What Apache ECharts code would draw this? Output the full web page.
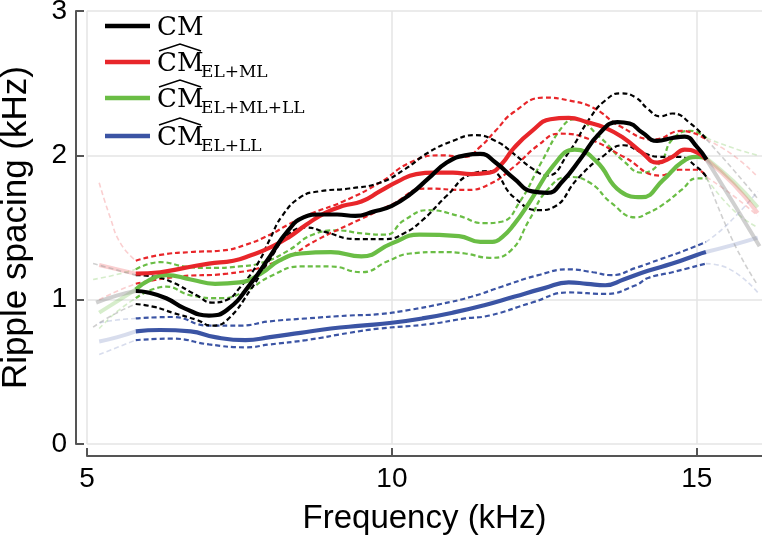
<!DOCTYPE html>
<html><head><meta charset="utf-8">
<script src="https://cdn.jsdelivr.net/npm/echarts@6/dist/echarts.min.js"></script>
<style>html,body{margin:0;padding:0;background:#fff}#c{width:762px;height:538px}</style>
</head><body><div id="c"></div>
<script>
// ---- data (x: frequency kHz, y: ripple spacing kHz) ----
const xTicks = [5, 10, 15];
const yTicks = [0, 1, 2, 3];

const cmMain = [[5.8,1.06],[6.0,1.05],[6.3,1.01],[6.6,0.94],[7.0,0.89],[7.3,0.93],[7.7,1.12],[8.0,1.30],[8.3,1.48],[8.55,1.57],[8.8,1.59],[9.1,1.59],[9.4,1.58],[9.7,1.61],[10.0,1.65],[10.3,1.73],[10.6,1.84],[10.9,1.95],[11.2,2.0],[11.45,2.01],[11.7,1.95],[12.0,1.84],[12.3,1.75],[12.55,1.74],[12.8,1.82],[13.1,1.98],[13.4,2.15],[13.7,2.23],[13.9,2.22],[14.1,2.16],[14.35,2.10],[14.6,2.12],[14.8,2.13],[15.0,2.06],[15.16,1.97]];
const cmUp = [[5.8,1.17],[6.1,1.16],[6.4,1.12],[6.8,1.03],[7.05,0.98],[7.3,1.00],[7.5,1.08],[7.8,1.25],[8.0,1.42],[8.2,1.58],[8.5,1.71],[8.8,1.75],[9.3,1.77],[9.8,1.81],[10.2,1.90],[10.6,2.02],[11.0,2.10],[11.35,2.14],[11.7,2.10],[12.0,2.01],[12.3,1.91],[12.55,1.86],[12.9,2.02],[13.25,2.26],[13.5,2.38],[13.75,2.43],[14.0,2.40],[14.2,2.32],[14.4,2.27],[14.6,2.29],[14.9,2.22],[15.16,2.11]];
const cmLo = [[5.8,0.97],[6.1,0.95],[6.4,0.91],[6.8,0.86],[7.05,0.82],[7.3,0.86],[7.7,1.08],[8.0,1.28],[8.3,1.45],[8.6,1.50],[8.9,1.47],[9.4,1.42],[9.9,1.42],[10.2,1.46],[10.5,1.55],[10.9,1.72],[11.3,1.87],[11.6,1.89],[12.0,1.71],[12.4,1.62],[12.65,1.64],[13.05,1.84],[13.45,1.99],[13.8,2.07],[14.1,2.02],[14.4,1.99],[14.7,1.99],[15.0,1.92],[15.16,1.85]];

const elmlMain = [[5.8,1.18],[6.2,1.19],[6.6,1.22],[7.0,1.25],[7.4,1.27],[7.7,1.31],[8.0,1.36],[8.3,1.43],[8.6,1.52],[8.9,1.60],[9.2,1.65],[9.5,1.68],[9.8,1.75],[10.1,1.82],[10.4,1.87],[10.7,1.88],[11.0,1.88],[11.3,1.87],[11.6,1.88],[11.8,1.94],[12.0,2.05],[12.3,2.17],[12.6,2.25],[12.9,2.26],[13.2,2.23],[13.5,2.19],[13.8,2.12],[14.1,2.02],[14.35,1.95],[14.6,1.99],[14.8,2.04],[15.0,2.02],[15.16,1.97]];
const elmlUp = [[5.8,1.27],[6.2,1.31],[6.7,1.33],[7.2,1.34],[7.6,1.38],[8.0,1.45],[8.3,1.52],[8.7,1.60],[9.2,1.68],[9.8,1.81],[10.3,1.95],[10.8,2.00],[11.2,1.99],[11.45,2.06],[11.7,2.17],[12.0,2.30],[12.5,2.40],[12.9,2.38],[13.3,2.33],[13.75,2.20],[14.3,2.11],[14.75,2.17],[15.16,2.11]];
const elmlLo = [[5.8,1.11],[6.5,1.16],[7.3,1.18],[8.15,1.27],[8.8,1.42],[9.5,1.56],[10.0,1.66],[10.55,1.77],[11.2,1.76],[11.6,1.80],[12.0,1.92],[12.4,2.07],[12.75,2.15],[13.25,2.11],[13.8,1.99],[14.4,1.86],[14.7,1.90],[15.0,1.90],[15.16,1.85]];

const elmlllMain = [[5.8,1.07],[6.0,1.13],[6.3,1.17],[6.7,1.14],[7.1,1.11],[7.5,1.12],[7.85,1.18],[8.15,1.27],[8.5,1.32],[9.0,1.33],[9.5,1.30],[10.0,1.39],[10.45,1.45],[11.1,1.44],[11.45,1.40],[11.65,1.40],[11.8,1.43],[12.0,1.52],[12.25,1.67],[12.65,1.93],[13.0,2.04],[13.35,1.96],[13.75,1.75],[14.1,1.71],[14.45,1.83],[14.75,1.95],[15.0,1.99],[15.16,1.98]];
const elmlllUp = [[5.8,1.21],[6.2,1.26],[6.6,1.23],[7.0,1.22],[7.5,1.23],[7.9,1.26],[8.3,1.34],[8.7,1.45],[9.1,1.48],[9.5,1.46],[9.9,1.45],[10.2,1.55],[10.6,1.62],[11.1,1.58],[11.5,1.53],[11.8,1.54],[12.1,1.68],[12.45,1.95],[12.8,2.20],[13.0,2.25],[13.4,2.13],[13.8,1.96],[14.1,1.88],[14.4,1.95],[14.6,2.11],[14.9,2.17],[15.16,2.12]];
const elmlllLo = [[5.8,1.01],[6.3,1.09],[6.7,1.03],[7.2,1.01],[7.6,1.06],[8.0,1.16],[8.5,1.23],[9.0,1.23],[9.5,1.19],[9.95,1.27],[10.3,1.32],[10.8,1.33],[11.2,1.32],[11.6,1.29],[11.95,1.34],[12.25,1.55],[12.55,1.76],[12.9,1.85],[13.25,1.81],[13.6,1.67],[14.0,1.57],[14.2,1.60],[14.45,1.66],[14.75,1.76],[15.0,1.84],[15.16,1.84]];

const elllMain = [[5.8,0.78],[6.2,0.79],[6.7,0.78],[7.1,0.74],[7.6,0.72],[8.0,0.74],[8.5,0.77],[9.0,0.80],[9.5,0.82],[10.0,0.84],[10.5,0.87],[11.0,0.91],[11.5,0.96],[12.0,1.02],[12.5,1.08],[12.9,1.12],[13.2,1.11],[13.5,1.10],[13.8,1.14],[14.2,1.20],[14.6,1.25],[15.0,1.31],[15.15,1.33]];
const elllUp = [[5.8,0.87],[6.4,0.88],[7.0,0.82],[7.5,0.82],[8.0,0.85],[8.6,0.87],[9.3,0.89],[9.8,0.90],[10.3,0.93],[10.8,0.97],[11.3,1.02],[11.8,1.09],[12.4,1.17],[12.9,1.21],[13.3,1.19],[13.6,1.17],[14.0,1.22],[14.4,1.28],[14.8,1.34],[15.15,1.40]];
const elllLo = [[5.8,0.72],[6.4,0.73],[7.0,0.69],[7.6,0.67],[8.0,0.69],[8.6,0.72],[9.3,0.77],[9.8,0.80],[10.6,0.83],[11.2,0.87],[11.6,0.89],[12.3,0.98],[12.9,1.05],[13.5,1.04],[14.0,1.10],[14.2,1.15],[14.6,1.19],[15.15,1.25]];

// faded extrapolations outside the fitted range
const cmMainL = [[5.15,0.98],[5.5,1.03],[5.8,1.06]];
const cmMainR = [[15.16,1.97],[15.6,1.67],[16.03,1.37]];
const cmUpL = [[5.1,1.25],[5.45,1.21],[5.8,1.17]];
const cmUpR = [[15.16,2.11],[15.6,1.90],[16.0,1.70]];
const cmLoL = [[5.1,0.81],[5.45,0.90],[5.8,0.97]];
const cmLoR = [[15.16,1.85],[15.6,1.40],[16.0,1.10]];
const elmlMainL = [[5.2,1.24],[5.5,1.21],[5.8,1.18]];
const elmlMainR = [[15.16,1.97],[15.6,1.80],[16.0,1.60]];
const elmlUpL = [[5.2,1.81],[5.38,1.57],[5.55,1.39],[5.8,1.27]];
const elmlUpR = [[15.16,2.11],[15.6,2.00],[16.0,1.85]];
const elmlLoL = [[5.2,1.00],[5.5,1.06],[5.8,1.11]];
const elmlLoR = [[15.16,1.85],[15.6,1.72],[16.0,1.58]];
const elmlllMainL = [[5.2,0.91],[5.5,0.99],[5.8,1.07]];
const elmlllMainR = [[15.16,1.98],[15.6,1.82],[16.0,1.64]];
const elmlllUpL = [[5.1,1.14],[5.45,1.17],[5.8,1.21]];
const elmlllUpR = [[15.16,2.12],[15.6,2.05],[16.0,2.00]];
const elmlllLoL = [[5.2,0.80],[5.5,0.92],[5.8,1.01]];
const elmlllLoR = [[15.16,1.84],[15.6,1.62],[16.0,1.50]];
const elllMainL = [[5.2,0.71],[5.5,0.74],[5.8,0.78]];
const elllMainR = [[15.15,1.33],[15.6,1.38],[16.0,1.43]];
const elllUpL = [[5.2,0.84],[5.5,0.86],[5.8,0.87]];
const elllUpR = [[15.15,1.40],[15.5,1.52],[16.0,1.75]];
const elllLoL = [[5.2,0.62],[5.5,0.67],[5.8,0.72]];
const elllLoR = [[15.15,1.25],[15.5,1.22],[16.0,1.05]];

// ---- styling ----
const BLACK = '#000000', RED = '#e8262a', GREEN = '#6abd45', BLUE = '#3b54a4';
const FADE = {black:'rgba(150,150,150,0.45)', red:'rgba(232,38,42,0.22)', green:'rgba(106,189,69,0.28)', blue:'rgba(59,84,164,0.2)'};

function line(data, color, width, dashed, z) {
  return {type:'line', data:data, symbol:'none', smooth:0.5, silent:true, z:z,
    lineStyle:{color:color, width:width, type: dashed ? [5,3] : 'solid', cap:'butt'}};
}
const groups = [
  {c:BLUE, f:FADE.blue, main:elllMain, up:elllUp, lo:elllLo, ext:[elllMainL,elllMainR], upE:[elllUpL,elllUpR], loE:[elllLoL,elllLoR], z:2},
  {c:GREEN, f:FADE.green, main:elmlllMain, up:elmlllUp, lo:elmlllLo, ext:[elmlllMainL,elmlllMainR], upE:[elmlllUpL,elmlllUpR], loE:[elmlllLoL,elmlllLoR], z:3},
  {c:RED, f:FADE.red, main:elmlMain, up:elmlUp, lo:elmlLo, ext:[elmlMainL,elmlMainR], upE:[elmlUpL,elmlUpR], loE:[elmlLoL,elmlLoR], z:4},
  {c:BLACK, f:FADE.black, main:cmMain, up:cmUp, lo:cmLo, ext:[cmMainL,cmMainR], upE:[cmUpL,cmUpR], loE:[cmLoL,cmLoR], z:5}
];
const series = [];
groups.forEach(g => {
  g.upE.concat(g.loE).forEach(d => series.push(line(d, g.f, 1.6, true, 1)));
  g.ext.forEach(d => series.push(line(d, g.f, 4, false, 1)));
});
groups.forEach(g => {
  series.push(line(g.up, g.c, 2.2, true, g.z));
  series.push(line(g.lo, g.c, 2.2, true, g.z));
});
groups.forEach(g => series.push(line(g.main, g.c, 4.2, false, 10 + g.z)));

// ---- legend (drawn as graphic) ----
const legendRows = [
  {y:26, color:BLACK, sub:'', hat:false},
  {y:62, color:RED, sub:'EL+ML', hat:true},
  {y:98, color:GREEN, sub:'EL+ML+LL', hat:true},
  {y:136, color:BLUE, sub:'EL+LL', hat:true}
];
const graphics = [];
legendRows.forEach(r => {
  graphics.push({type:'line', shape:{x1:105, y1:r.y, x2:150, y2:r.y}, style:{stroke:r.color, lineWidth:4.5}, z:100});
  graphics.push({type:'text', x:157, y:r.y + 2, style:{text:'CM', font:'26px "DejaVu Serif"', fill:'#000', verticalAlign:'middle', align:'left'}, z:100});
  if (r.sub) graphics.push({type:'text', x:201, y:r.y + 11, style:{text:r.sub, font:'17px "DejaVu Serif"', fill:'#000', verticalAlign:'middle', align:'left'}, z:100});
  if (r.hat) graphics.push({type:'polyline', shape:{points:[[159, r.y-11],[180, r.y-18],[201, r.y-11]]}, style:{stroke:'#000', lineWidth:1.5, fill:null}, z:100});
});

const chart = echarts.init(document.getElementById('c'), null, {renderer:'canvas'});
chart.setOption({
  animation:false,
  backgroundColor:'#fff',
  grid:{left:87, top:11, width:675, height:433, containLabel:false, outerBoundsMode:'none'},
  xAxis:{type:'value', min:5, max:16.07, interval:5, offset:12,
    name:'Frequency (kHz)', nameLocation:'middle', nameGap:46,
    nameTextStyle:{fontFamily:'Liberation Sans', fontSize:33, color:'#000'},
    axisLine:{show:true, onZero:false, lineStyle:{color:'#555', width:2}},
    axisTick:{show:true, inside:true, length:8, lineStyle:{color:'#555', width:2}, customValues:xTicks},
    axisLabel:{fontFamily:'Liberation Sans', fontSize:28, color:'#000', margin:9, customValues:xTicks,
      formatter: v => (xTicks.indexOf(v) >= 0 ? String(v) : '')},
    splitLine:{show:true, lineStyle:{color:'#e4e4e4', width:1.5}}
  },
  yAxis:{type:'value', min:0, max:3, interval:1, offset:11,
    name:'Ripple spacing (kHz)', nameLocation:'middle', nameGap:42,
    nameTextStyle:{fontFamily:'Liberation Sans', fontSize:35, color:'#000'},
    axisLine:{show:true, onZero:false, lineStyle:{color:'#555', width:2}},
    axisTick:{show:true, inside:true, length:8, lineStyle:{color:'#555', width:2}},
    axisLabel:{fontFamily:'Liberation Sans', fontSize:28, color:'#000', margin:9,
      formatter: v => (yTicks.indexOf(v) >= 0 ? String(v) : '')},
    splitLine:{show:true, lineStyle:{color:'#e4e4e4', width:1.5}}
  },
  series:series,
  graphic:graphics
});
</script></body></html>
